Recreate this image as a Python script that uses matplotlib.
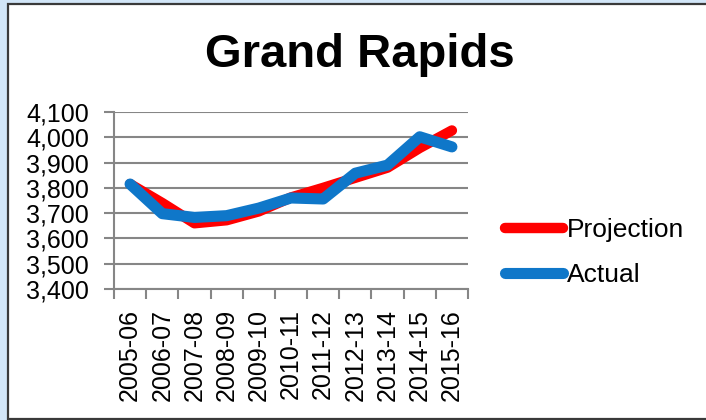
import matplotlib
matplotlib.use('Agg')
import matplotlib.pyplot as plt
from matplotlib.patches import Rectangle
from matplotlib.ticker import FuncFormatter

plt.rcParams['font.family'] = ['Liberation Sans', 'DejaVu Sans']

# 数据
years = ['2005-06', '2006-07', '2007-08', '2008-09', '2009-10', '2010-11',
         '2011-12', '2012-13', '2013-14', '2014-15', '2015-16']
projection = [3815, 3740, 3660, 3672, 3707, 3762, 3800, 3840, 3880, 3958, 4027]
actual = [3815, 3698, 3683, 3690, 3720, 3760, 3756, 3858, 3890, 4002, 3962]

fig = plt.figure(figsize=(7.06, 4.2), dpi=100)
fig.patch.set_facecolor('#d2e6f8')

# 白色图表区 + 边框
frame = Rectangle((8 / 706, 1 / 420), 1.0, 1 - 5 / 420, transform=fig.transFigure,
                  facecolor='white', edgecolor='#3a3a3a', linewidth=1.6, zorder=-1)
fig.patches.append(frame)

ax = fig.add_axes([114 / 706, 131 / 420, 354 / 706, 177 / 420])
ax.set_zorder(1)
ax.set_facecolor('none')

x = list(range(len(years)))
ax.plot(x, projection, color='#ff0000', linewidth=7.5, solid_capstyle='round',
        solid_joinstyle='round', label='Projection', zorder=3)
ax.plot(x, actual, color='#0f77c9', linewidth=8, solid_capstyle='round',
        solid_joinstyle='round', label='Actual', zorder=4)

ax.set_xlim(-0.5, len(years) - 0.5)
ax.set_ylim(3400, 4100)
ax.set_yticks(range(3400, 4101, 100))
ax.yaxis.set_major_formatter(FuncFormatter(lambda v, p: f'{int(v):,}'))

# 类别边界刻度
ax.set_xticks([i - 0.5 for i in range(len(years) + 1)])
ax.set_xticklabels([])
ax.set_xticks(x, minor=True)
ax.set_xticklabels(years, minor=True, rotation=90, fontsize=18)
ax.tick_params(axis='x', which='minor', length=0, pad=14.5)
ax.tick_params(axis='x', which='major', length=7, width=1.5, color='#868686')
ax.tick_params(axis='y', length=7, width=1.5, color='#868686', labelsize=18, pad=11)

ax.grid(axis='y', color='#868686', linewidth=1.5)
for s in ['top', 'right']:
    ax.spines[s].set_visible(False)
for s in ['left', 'bottom']:
    ax.spines[s].set_color('#868686')
    ax.spines[s].set_linewidth(1.5)

fig.text(360 / 706, 1 - 55 / 420, 'Grand Rapids', ha='center', va='center',
         fontsize=34, fontweight='bold')

leg = fig.legend(*ax.get_legend_handles_labels(), loc='center left',
                 bbox_to_anchor=(505 / 706, 167.5 / 420), frameon=False,
                 fontsize=19, handlelength=2.2, handletextpad=0.15, labelspacing=0.8,
                 borderpad=0, borderaxespad=0)

plt.savefig('out.png', dpi=100, facecolor=fig.get_facecolor())
plt.close()
